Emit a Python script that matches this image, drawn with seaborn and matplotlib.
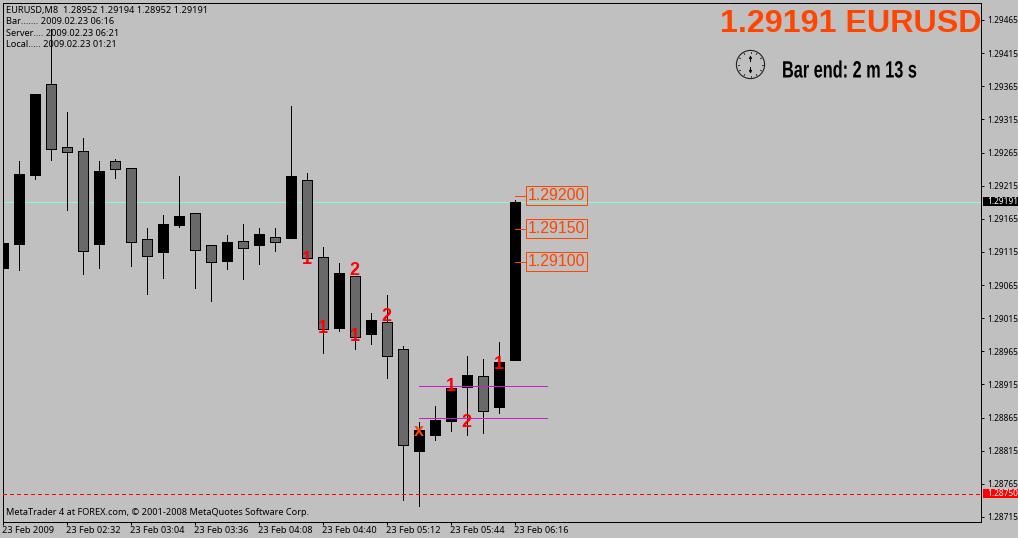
import numpy as np
import pandas as pd
import matplotlib.pyplot as plt
import matplotlib.patheffects as pe
import seaborn as sns
from matplotlib.patches import Circle, Rectangle
from matplotlib.transforms import Affine2D, ScaledTranslation

# candles, oldest first
opens = [1.29091, 1.29127, 1.29231, 1.29368, 1.29273, 1.29267, 1.29127, 1.29252, 1.29242, 1.29134, 1.29115,
         1.29156, 1.29174, 1.29125, 1.29101, 1.29132, 1.29125, 1.29138, 1.29136, 1.29224, 1.29108, 1.29000,
         1.29079, 1.28991, 1.29009, 1.28969, 1.28815, 1.28839, 1.28860, 1.28911, 1.28928, 1.28881, 1.28952]
closes = [1.29128, 1.29233, 1.29353, 1.29270, 1.29266, 1.29117, 1.29237, 1.29240, 1.29130, 1.29109, 1.29157,
          1.29169, 1.29118, 1.29100, 1.29130, 1.29121, 1.29142, 1.29130, 1.29230, 1.29106, 1.28999, 1.29083,
          1.28987, 1.29012, 1.28958, 1.28824, 1.28846, 1.28862, 1.28910, 1.28929, 1.28875, 1.28949, 1.29191]
highs = [1.29257, 1.29252, 1.29353, 1.29451, 1.29326, 1.29287, 1.29252, 1.29255, 1.29242, 1.29151, 1.29171,
         1.29230, 1.29174, 1.29125, 1.29141, 1.29157, 1.29151, 1.29151, 1.29335, 1.29234, 1.29122, 1.29098,
         1.29079, 1.29023, 1.29050, 1.28973, 1.28858, 1.28883, 1.28910, 1.28958, 1.28953, 1.28979, 1.29194]
lows = [1.29044, 1.29088, 1.29225, 1.29254, 1.29178, 1.29082, 1.29091, 1.29227, 1.29094, 1.29052, 1.29076,
        1.29153, 1.29061, 1.29041, 1.29089, 1.29074, 1.29097, 1.29116, 1.29136, 1.29106, 1.28963, 1.28996,
        1.28969, 1.28976, 1.28925, 1.28741, 1.28732, 1.28831, 1.28845, 1.28839, 1.28842, 1.28872, 1.28952]

price_ticks = [1.28715, 1.28765, 1.28815, 1.28865, 1.28915, 1.28965, 1.29015, 1.29065,
               1.29115, 1.29165, 1.29215, 1.29265, 1.29315, 1.29365, 1.29415, 1.29465]
time_ticks = [0, 4, 8, 12, 16, 20, 24, 28, 32]
time_labels = ['23 Feb 2009', '23 Feb 02:32', '23 Feb 03:04', '23 Feb 03:36', '23 Feb 04:08',
               '23 Feb 04:40', '23 Feb 05:12', '23 Feb 05:44', '23 Feb 06:16']

bid = 1.29191
alert = 1.28750
tag_levels = [1.29200, 1.29150, 1.29100]

wave_idx = [19, 20, 22, 22, 24, 28, 29, 31]
wave_price = [1.29107, 1.29002, 1.29090, 1.28991, 1.29020, 1.28915, 1.28860, 1.28948]
wave_text = ['1', '1', '2', '1', '2', '1', '2', '1']

level_idx = [26, 34]
level_prices = [1.28912, 1.28864]

text_font = 'Noto Sans'
orange = '#ff4500'

sns.set_theme(style='ticks', rc={
    'figure.facecolor': '#c0c0c0', 'axes.facecolor': '#c0c0c0', 'axes.edgecolor': 'black',
    'axes.linewidth': 0.72, 'xtick.major.size': 2.4, 'ytick.major.size': 2.4,
    'xtick.major.width': 0.72, 'ytick.major.width': 0.72, 'xtick.major.pad': 0.8, 'ytick.major.pad': 2,
    'xtick.color': 'black', 'ytick.color': 'black', 'font.family': [text_font, 'DejaVu Sans'],
})

W, H = 1018, 538
fig = plt.figure(figsize=(W / 100, H / 100), dpi=100)
ax = fig.add_axes([2.5 / W, 1 - 521.5 / H, 978.5 / W, 519 / H])


class Squeeze(pe.AbstractPathEffect):
    # condensed look for the countdown text, scaled around its left edge
    def __init__(self, x0, factor):
        super().__init__()
        self.tr = Affine2D().translate(-x0, 0).scale(factor, 1).translate(x0, 0)

    def draw_path(self, renderer, gc, tpath, affine, rgbFace=None):
        renderer.draw_path(gc, tpath, affine + self.tr, rgbFace)


def put(x, y, s, **kw):
    return fig.text(x / W, 1 - y / H, s, va='center', **kw)


df = pd.DataFrame({'i': np.arange(len(opens)), 'open': opens, 'close': closes, 'high': highs, 'low': lows})
df['base'] = df[['open', 'close']].min(axis=1)
df['size'] = (df['close'] - df['open']).abs()
up = df[df['close'] > df['open']]
down = df[df['close'] <= df['open']]

ax.axhline(bid, color='#7fffd4', lw=0.72, zorder=0.5, antialiased=False)
ax.vlines(df['i'], df['low'], df['high'], color='black', lw=0.72, zorder=1, antialiased=False)

for part, col in [(up, 'black'), (down, '#696969')]:
    sns.barplot(data=part, x='i', y='size', bottom=part['base'].values, native_scale=True, width=0.625,
                color=col, saturation=1, errorbar=None, edgecolor='black', linewidth=0.72,
                antialiased=False, zorder=2, ax=ax)

ax.axhline(alert, color='red', lw=0.72, ls=(0, (4, 3)), zorder=3, antialiased=False)
for p in level_prices:
    ax.hlines(p, level_idx[0], level_idx[1], color='#c71fc7', lw=0.72, zorder=3, antialiased=False)

for i, p, s in zip(wave_idx, wave_price, wave_text):
    ax.text(i, p, s, color='red', fontsize=13, weight='bold', family='Liberation Sans',
            ha='center', va='center_baseline', zorder=5)
ax.text(26, 1.28844, 'x', color=orange, fontsize=13, weight='bold', family='Liberation Sans',
        ha='center', va='center', zorder=5)

# price tags next to the last candle
for p in tag_levels:
    ax.hlines(p, 32, 32.72, color=orange, lw=0.72, zorder=4, antialiased=False)
    ax.text(32.82, p, f'{p:.5f}', color=orange, fontsize=11.4, family='Liberation Sans', va='center', ha='left',
            zorder=5, bbox=dict(boxstyle='square,pad=0.12', fc='none', ec=orange, lw=0.72))

ax.set_xlim(0, 61.12)
ax.set_ylim(1.287082, 1.294914)
ax.set_xlabel('')
ax.set_ylabel('')
ax.yaxis.tick_right()
ax.set_yticks(price_ticks, [f'{p:.5f}' for p in price_ticks], fontsize=6)
ax.set_xticks(time_ticks, time_labels, fontsize=6.6, ha='left')
shift = ScaledTranslation(-1 / 100, 0, fig.dpi_scale_trans)
for lab in ax.get_xticklabels():
    lab.set_transform(lab.get_transform() + shift)
for side in ax.spines:
    ax.spines[side].set_visible(True)

# current price and alert boxes on the scale
trans = ax.get_yaxis_transform()
for p, col in [(bid, 'black'), (alert, 'red')]:
    ax.add_patch(Rectangle((1.002, p - 0.00007), 0.05, 0.00014, transform=trans, fc=col, ec='none',
                           clip_on=False, zorder=6))
    ax.text(1.0062, p, f'{p:.5f}', transform=trans, color='white', fontsize=6, va='center', clip_on=False, zorder=7)

put(6, 10.5, 'EURUSD,M8  1.28952 1.29194 1.28952 1.29191', fontsize=6.6, color='black')
put(6, 21, 'Bar....... 2009.02.23 06:16', fontsize=6.6, color='black')
put(6, 33, 'Server.... 2009.02.23 06:21', fontsize=6.6, color='black')
put(6, 44.5, 'Local..... 2009.02.23 01:21', fontsize=6.6, color='black')
put(6, 512.5, 'MetaTrader 4 at FOREX.com, © 2001-2008 MetaQuotes Software Corp.', fontsize=6.6, color='black')

put(720, 24, '1.29191 EURUSD', fontsize=23.2, weight='bold', family='Liberation Sans', color=orange)
bar_end = put(782, 71, 'Bar end: 2 m 13 s', fontsize=17, weight='bold', family='Liberation Sans', color='black')
bar_end.set_path_effects([Squeeze(782, 0.69)])

# little clock face
clock = fig.add_axes([735 / W, 1 - 80 / H, 31 / W, 31 / H])
clock.set_xlim(-1.1, 1.1)
clock.set_ylim(-1.1, 1.1)
clock.axis('off')
clock.add_patch(Circle((0, 0), 1, fc='none', ec='#202020', lw=0.8))
for a in np.arange(0, 360, 30):
    r = np.radians(a)
    clock.plot([0.82 * np.cos(r), 0.9 * np.cos(r)], [0.82 * np.sin(r), 0.9 * np.sin(r)], color='#202020', lw=0.7)
clock.annotate('', xy=(0, 0.85), xytext=(0, 0), arrowprops=dict(arrowstyle='-|>', color='black', lw=0.7, mutation_scale=4))
clock.annotate('', xy=(0, -0.85), xytext=(0, 0), arrowprops=dict(arrowstyle='-|>', color='black', lw=0.7, mutation_scale=4))

fig.savefig('out.png', dpi=100, facecolor=fig.get_facecolor())
